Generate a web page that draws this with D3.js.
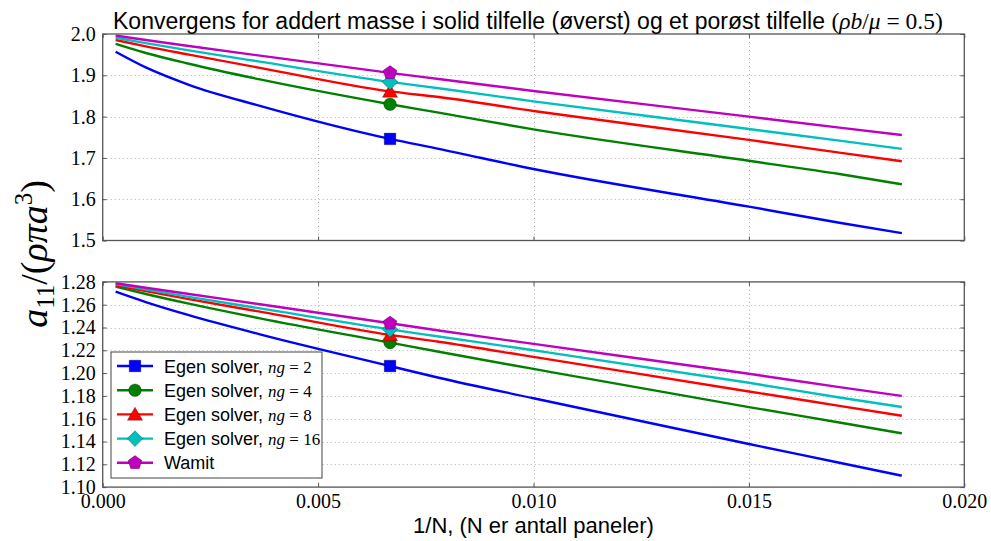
<!DOCTYPE html>
<html>
<head>
<meta charset="utf-8">
<script src="https://cdn.jsdelivr.net/npm/d3@7"></script>
<style>
  html, body { margin: 0; padding: 0; background: #fff; }
  svg { display: block; }
  .tick text { font-family: "Liberation Serif", "Times New Roman", serif !important; }
</style>
</head>
<body>
<svg id="chart" width="991" height="541"></svg>
<script>
// 1/N for the panel counts that were computed
const invN = [0.0003, 0.001, 0.002, 0.00365, 0.00667, 0.0078, 0.01, 0.015, 0.0171, 0.01855];
// index of the highlighted run (N = 150)
const markIndex = 4;

// Solid body: a11 / (rho pi a^3)
const solidNg2   = [1.957, 1.919, 1.877, 1.826, 1.746, 1.722, 1.673, 1.582, 1.543, 1.518];
const solidNg4   = [1.976, 1.954, 1.928, 1.890, 1.830, 1.8095, 1.769, 1.693, 1.661, 1.636];
const solidNg8   = [1.9855, 1.970, 1.950, 1.918, 1.861, 1.8475, 1.8136, 1.7435, 1.7127, 1.692];
const solidNg16  = [1.991, 1.978, 1.9605, 1.933, 1.884, 1.8685, 1.837, 1.770, 1.7418, 1.7218];
const solidWamit = [1.996, 1.9855, 1.971, 1.9475, 1.906, 1.891, 1.862, 1.7998, 1.7732, 1.7556];

// Porous body (rho b / mu = 0.5)
const porousNg2   = [1.2714, 1.2623, 1.2508, 1.234, 1.2062, 1.1959, 1.1779, 1.1378, 1.1214, 1.110];
const porousNg4   = [1.2758, 1.2694, 1.2609, 1.248, 1.2267, 1.2187, 1.2037, 1.1702, 1.1567, 1.1472];
const porousNg8   = [1.277, 1.2719, 1.2649, 1.2539, 1.2335, 1.2275, 1.2142, 1.1839, 1.1713, 1.1626];
const porousNg16  = [1.2782, 1.2734, 1.2669, 1.2568, 1.2384, 1.2321, 1.220, 1.1915, 1.1786, 1.1703];
const porousWamit = [1.2788, 1.2749, 1.2694, 1.2604, 1.2437, 1.2374, 1.2256, 1.1994, 1.1877, 1.180];

const legendNames = ["Egen solver, ", "Egen solver, ", "Egen solver, ", "Egen solver, ", "Wamit"];
const legendNg    = ["2", "4", "8", "16", null];
const seriesColors = ["#0000ff", "#008000", "#ff0000", "#00bfbf", "#bf00bf"];

const xTicks = [0, 0.005, 0.010, 0.015, 0.020];
const yTicksTop = [1.5, 1.6, 1.7, 1.8, 1.9, 2.0];
const yTicksBottom = [1.10, 1.12, 1.14, 1.16, 1.18, 1.20, 1.22, 1.24, 1.26, 1.28];

// ---------------------------------------------------------------
const SANS = '"Liberation Sans", Arimo, Arial, Helvetica, sans-serif';
const SERIF = '"Liberation Serif", "Times New Roman", "DejaVu Serif", serif';

const svg = d3.select("#chart");
const left = 102.7, right = 964.3;

const x = d3.scaleLinear().domain([0, 0.020]).range([left, right]);

const panels = [
  { top: 34, bottom: 240.5, domain: [1.5, 2.0], ticks: yTicksTop, fmt: d3.format(".1f"),
    series: [solidNg2, solidNg4, solidNg8, solidNg16, solidWamit], xlabels: false },
  { top: 281.9, bottom: 487.1, domain: [1.10, 1.28], ticks: yTicksBottom, fmt: d3.format(".2f"),
    series: [porousNg2, porousNg4, porousNg8, porousNg16, porousWamit], xlabels: true }
];

// pentagon marker (matplotlib 'p')
const symbolPentagon = {
  draw(ctx, size) {
    const r = Math.sqrt(size / 2.378);
    for (let i = 0; i < 5; i++) {
      const a = -Math.PI / 2 + i * 2 * Math.PI / 5;
      const px = r * Math.cos(a), py = r * Math.sin(a);
      if (i === 0) ctx.moveTo(px, py); else ctx.lineTo(px, py);
    }
    ctx.closePath();
  }
};
// diamond marker (matplotlib 'D': square rotated 45 degrees)
const symbolRotSquare = {
  draw(ctx, size) {
    const r = Math.sqrt(size / 2);
    ctx.moveTo(0, -r); ctx.lineTo(r, 0); ctx.lineTo(0, r); ctx.lineTo(-r, 0); ctx.closePath();
  }
};
const markerTypes = [d3.symbolSquare, d3.symbolCircle, d3.symbolTriangle, symbolRotSquare, symbolPentagon];
const markerSizes = [135, 125, 100, 125, 125];

function marker(g, i, cx, cy) {
  g.append("path")
    .attr("d", d3.symbol().type(markerTypes[i]).size(markerSizes[i])())
    .attr("transform", `translate(${cx},${cy})` + (i === 2 ? " translate(0,1.5)" : ""))
    .attr("fill", seriesColors[i])
    .attr("stroke", "#000")
    .attr("stroke-opacity", 0.45)
    .attr("stroke-width", 0.6);
}

panels.forEach(p => {
  const y = d3.scaleLinear().domain(p.domain).range([p.bottom, p.top]);
  const g = svg.append("g");

  // dotted grid
  const grid = g.append("g").attr("stroke", "#b0b0b0").attr("stroke-width", 1)
    .attr("stroke-dasharray", "1,3");
  p.ticks.slice(1, -1).forEach(t => {
    grid.append("line").attr("x1", left).attr("x2", right)
      .attr("y1", Math.round(y(t)) + 0.5).attr("y2", Math.round(y(t)) + 0.5);
  });
  xTicks.slice(1, -1).forEach(t => {
    grid.append("line").attr("y1", p.top).attr("y2", p.bottom)
      .attr("x1", Math.round(x(t)) + 0.5).attr("x2", Math.round(x(t)) + 0.5);
  });

  // series lines
  const line = d3.line().x((d, k) => x(invN[k])).y(d => y(d)).curve(d3.curveMonotoneX);
  p.series.forEach((s, i) => {
    g.append("path").datum(s).attr("d", line)
      .attr("fill", "none").attr("stroke", seriesColors[i]).attr("stroke-width", 2.4);
  });
  // highlighted run markers
  p.series.forEach((s, i) => marker(g, i, x(invN[markIndex]), y(s[markIndex])));

  // axes (ticks inward on all four sides)
  const yAxisL = d3.axisLeft(y).tickValues(p.ticks).tickFormat(p.fmt).tickSizeInner(-4).tickSizeOuter(0).tickPadding(7);
  const yAxisR = d3.axisRight(y).tickValues(p.ticks).tickFormat("").tickSizeInner(-4).tickSizeOuter(0);
  const xAxisB = d3.axisBottom(x).tickValues(xTicks).tickFormat(p.xlabels ? d3.format(".3f") : "").tickSizeInner(-4).tickSizeOuter(0).tickPadding(7);
  const xAxisT = d3.axisTop(x).tickValues(xTicks).tickFormat("").tickSizeInner(-4).tickSizeOuter(0);

  const axes = [
    g.append("g").attr("transform", `translate(${left},0)`).call(yAxisL),
    g.append("g").attr("transform", `translate(${right},0)`).call(yAxisR),
    g.append("g").attr("transform", `translate(0,${p.bottom})`).call(xAxisB),
    g.append("g").attr("transform", `translate(0,${p.top})`).call(xAxisT)
  ];
  axes.forEach(a => {
    a.attr("font-family", SERIF).attr("font-size", 20);
    a.select(".domain").remove();
    a.selectAll(".tick line").attr("stroke", "#555");
    a.selectAll(".tick text").attr("fill", "#000")
      .style("font-family", SERIF).style("font-size", "20px");
  });

  // frame
  g.append("rect").attr("x", left).attr("y", p.top).attr("width", right - left).attr("height", p.bottom - p.top)
    .attr("fill", "none").attr("stroke", "#555").attr("stroke-width", 1.3);
});

// legend in the lower panel
const lg = svg.append("g");
lg.append("rect").attr("x", 111).attr("y", 352).attr("width", 211).attr("height", 126)
  .attr("fill", "#fff").attr("stroke", "#444").attr("stroke-width", 1);
legendNames.forEach((name, i) => {
  const cy = 366 + i * 24.2;
  lg.append("line").attr("x1", 117).attr("x2", 153).attr("y1", cy).attr("y2", cy)
    .attr("stroke", seriesColors[i]).attr("stroke-width", 2.4);
  marker(lg, i, 135, cy);
  const t = lg.append("text").attr("x", 164).attr("y", cy + 6.5).attr("font-size", 18)
    .attr("font-family", SANS).attr("fill", "#000");
  t.append("tspan").text(name);
  if (legendNg[i] !== null) {
    t.append("tspan").attr("font-family", SERIF).attr("font-style", "italic").attr("font-size", 17).text("ng");
    t.append("tspan").attr("font-family", SERIF).attr("font-size", 17).text(" = " + legendNg[i]);
  }
});

// title
const title = svg.append("text").attr("x", 113).attr("y", 29).attr("font-size", 23)
  .attr("font-family", SANS).attr("fill", "#000");
title.append("tspan").text("Konvergens for addert masse i solid tilfelle (øverst) og et porøst tilfelle ");
const mt = (txt, it) => {
  const s = title.append("tspan").attr("font-family", SERIF).attr("font-size", 23.5).text(txt);
  if (it) s.attr("font-style", "italic");
};
mt("(", false); mt("ρb", true); mt("/", false); mt("μ", true); mt(" = 0.5)", false);

// x label
svg.append("text").attr("x", (left + right) / 2).attr("y", 533).attr("text-anchor", "middle")
  .attr("font-size", 22).attr("font-family", SANS).attr("fill", "#000")
  .text("1/N, (N er antall paneler)");

// y label (shared)
const yl = svg.append("text").attr("transform", "translate(47,254) rotate(-90)")
  .attr("text-anchor", "middle").attr("font-family", SERIF).attr("font-size", 38).attr("fill", "#000");
yl.append("tspan").attr("font-style", "italic").text("a");
yl.append("tspan").attr("font-size", 25).attr("dy", 7).text("11");
yl.append("tspan").attr("dy", -7).text("/(");
yl.append("tspan").attr("font-style", "italic").text("ρπa");
yl.append("tspan").attr("font-size", 25).attr("dy", -15).text("3");
yl.append("tspan").attr("dy", 15).text(")");
</script>
</body>
</html>
